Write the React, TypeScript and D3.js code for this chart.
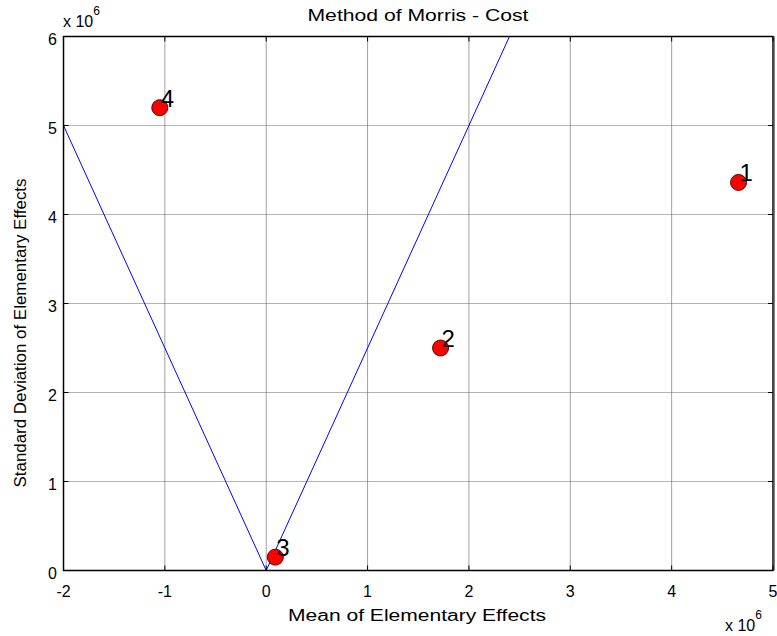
import React from 'react';
import * as d3 from 'd3';

// Morris screening results: mean and std. deviation of elementary effects per factor
const factorIds = ['1', '2', '3', '4'];
const meanEE = [4.66, 1.72, 0.09, -1.05];
const sdEE = [4.36, 2.5, 0.15, 5.2];

// Reference wedge  sigma = 2.5 * |mu|
const wedgeMu = [-2, 0, 2.4];
const wedgeSigma = [5, 0, 6];

const xTicks = [-2, -1, 0, 1, 2, 3, 4, 5];
const yTicks = [0, 1, 2, 3, 4, 5, 6];

const W = 777;
const H = 636;
const FONT = '"Liberation Sans", Arial, Helvetica, sans-serif';

export default function App() {
  const x = d3.scaleLinear().domain([-2, 5]).range([63.5, 773]);
  const y = d3.scaleLinear().domain([0, 6]).range([570.5, 36.5]);
  const [x0, x1] = x.range();
  const [y0, y1] = y.range();

  const wedge = d3
    .line<number>()
    .x((_, i) => x(wedgeMu[i]))
    .y((_, i) => y(wedgeSigma[i]))(wedgeMu);

  const tickLen = 5;

  return (
    <svg
      width={W}
      height={H}
      style={{ position: 'absolute', left: 0, top: 0, background: '#fff' }}
      fontFamily={FONT}
    >
      <rect x={0} y={0} width={W} height={H} fill="#fff" />

      {/* grid */}
      {xTicks.slice(1, -1).map((t) => (
        <line key={'gx' + t} x1={x(t)} x2={x(t)} y1={y1} y2={y0} stroke="#a0a0a0" strokeWidth={1} />
      ))}
      {yTicks.slice(1, -1).map((t) => (
        <line
          key={'gy' + t}
          x1={x0}
          x2={x1}
          y1={y(t)}
          y2={y(t)}
          stroke="#666"
          strokeWidth={1}
          strokeDasharray="1,1"
        />
      ))}

      {/* wedge lines */}
      <defs>
        <clipPath id="plotClip">
          <rect x={x0} y={y1} width={x1 - x0} height={y0 - y1} />
        </clipPath>
      </defs>
      <path d={wedge || ''} fill="none" stroke="#0000ff" strokeWidth={1} clipPath="url(#plotClip)" />

      {/* axes box */}
      <rect x={x0} y={y1} width={x1 - x0} height={y0 - y1} fill="none" stroke="#000" strokeWidth={1.5} />
      <line x1={x1 + 1} x2={x1 + 1} y1={y1} y2={y0} stroke="#555" strokeWidth={1.5} />

      {/* ticks */}
      {xTicks.map((t) => (
        <g key={'tx' + t}>
          <line x1={x(t)} x2={x(t)} y1={y0} y2={y0 - tickLen} stroke="#000" />
          <line x1={x(t)} x2={x(t)} y1={y1} y2={y1 + tickLen} stroke="#000" />
          <text x={x(t)} y={597} fontSize={16} textAnchor="middle" fill="#000">
            {t}
          </text>
        </g>
      ))}
      {yTicks.map((t) => (
        <g key={'ty' + t}>
          <line x1={x0} x2={x0 + tickLen} y1={y(t)} y2={y(t)} stroke="#000" />
          <line x1={x1} x2={x1 - tickLen} y1={y(t)} y2={y(t)} stroke="#000" />
          <text x={57} y={y(t) + 8} fontSize={16} textAnchor="end" fill="#000">
            {t}
          </text>
        </g>
      ))}

      {/* exponent labels */}
      <text x={63} y={27} fontSize={16} fill="#000">
        x 10
        <tspan dy={-12} fontSize={12}>6</tspan>
      </text>
      <text x={725} y={631} fontSize={16} fill="#000">
        x 10
        <tspan dy={-12} fontSize={12}>6</tspan>
      </text>

      {/* points and labels */}
      {factorIds.map((id, i) => (
        <g key={'p' + id}>
          <circle cx={x(meanEE[i])} cy={y(sdEE[i])} r={8} fill="#ff0000" stroke="#600" strokeWidth={1} />
          <text x={x(meanEE[i]) + 1} y={y(sdEE[i]) - 1} fontSize={24} fill="#000">
            {id}
          </text>
        </g>
      ))}

      {/* titles */}
      <text x={418} y={21} fontSize={17} textAnchor="middle" fill="#000" textLength={221} lengthAdjust="spacingAndGlyphs">
        Method of Morris - Cost
      </text>
      <text x={417} y={621} fontSize={16} textAnchor="middle" fill="#000" textLength={258} lengthAdjust="spacingAndGlyphs">
        Mean of Elementary Effects
      </text>
      <text
        transform={`translate(26, 333) rotate(-90)`}
        fontSize={16}
        textAnchor="middle"
        fill="#000"
        textLength={309}
        lengthAdjust="spacingAndGlyphs"
      >
        Standard Deviation of Elementary Effects
      </text>
    </svg>
  );
}
